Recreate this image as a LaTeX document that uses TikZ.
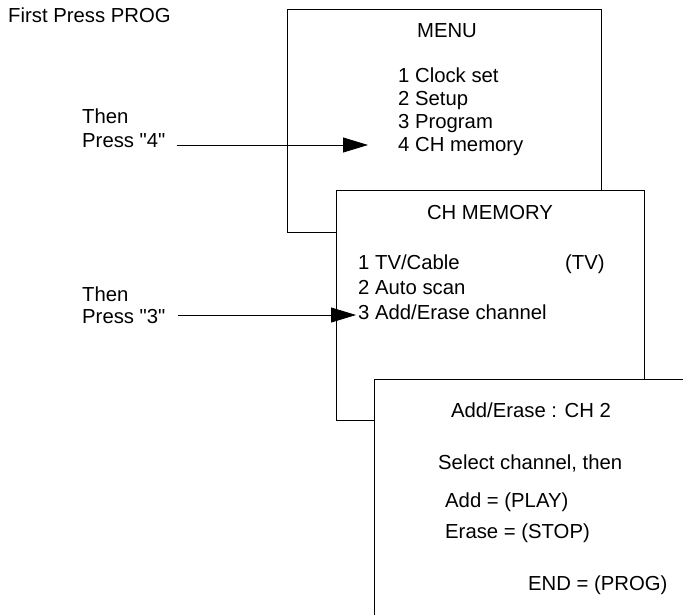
\documentclass[tikz,border=0pt]{standalone}
\usepackage{fontspec}
\setmainfont{Liberation Sans}
\usetikzlibrary{arrows.meta}
\tikzset{
	screen/.style={draw,fill=white,line width=0.8pt,anchor=north west,inner sep=0pt},
	txt/.style={anchor=base west,inner sep=0pt,font=\fontsize{20.3}{24}\selectfont},
	pointer/.style={line width=0.8pt,-{Triangle[length=25pt,width=15pt]}}
}
\begin{document}
\begin{tikzpicture}[x=1pt,y=-1pt]
	\useasboundingbox (0,0) rectangle (683,615);
	\clip (0,0) rectangle (683,615);
	% screens, back to front
	\node[screen,minimum width=314pt,minimum height=223pt] (menu) at (287,9) {};
	\node[screen,minimum width=308pt,minimum height=230pt] (chmem) at (336,190) {};
	\node[screen,minimum width=330pt,minimum height=260pt] (adderase) at (374,379) {};
	\node[txt] (first) at (8,23) {First Press PROG};
	\node[txt,anchor=base] (menutitle) at (447,38) {MENU};
	\node[txt] (item1) at (398,83) {1 Clock set};
	\node[txt] (item2) at (398,106) {2 Setup};
	\node[txt] (item3) at (398,129) {3 Program};
	\node[txt] (item4) at (398,152) {4 CH memory};
	\node[txt] (then4) at (82,124) {Then};
	\node[txt] (press4) at (82,148) {Press \textquotedbl4\textquotedbl};
	\node[txt,anchor=base] (chtitle) at (490,219) {CH MEMORY};
	\node[txt] (ch1) at (358,269) {1 TV/Cable};
	\node[txt] (tv) at (565,269) {(TV)};
	\node[txt] (ch2) at (358,294) {2 Auto scan};
	\node[txt] (ch3) at (358,319) {3 Add/Erase channel};
	\node[txt] (then3) at (82,301) {Then};
	\node[txt] (press3) at (82,323) {Press \textquotedbl3\textquotedbl};
	\node[txt,anchor=base] (aetitle) at (531,417) {Add/Erase : CH 2};
	\node[txt] (select) at (438,469) {Select channel, then};
	\node[txt] (add) at (445,507) {Add = (PLAY)};
	\node[txt] (erase) at (445,538) {Erase = (STOP)};
	\node[txt] (endkey) at (528,590) {END = (PROG)};
	% arrows
	\coordinate (tip4) at (368,145);
	\coordinate (tip3) at (356,315);
	\draw[pointer,shorten <=11pt] (press4.east |- tip4) -- (tip4);
	\draw[pointer,shorten <=12pt] (press3.east |- tip3) -- (tip3);
\end{tikzpicture}
\end{document}
